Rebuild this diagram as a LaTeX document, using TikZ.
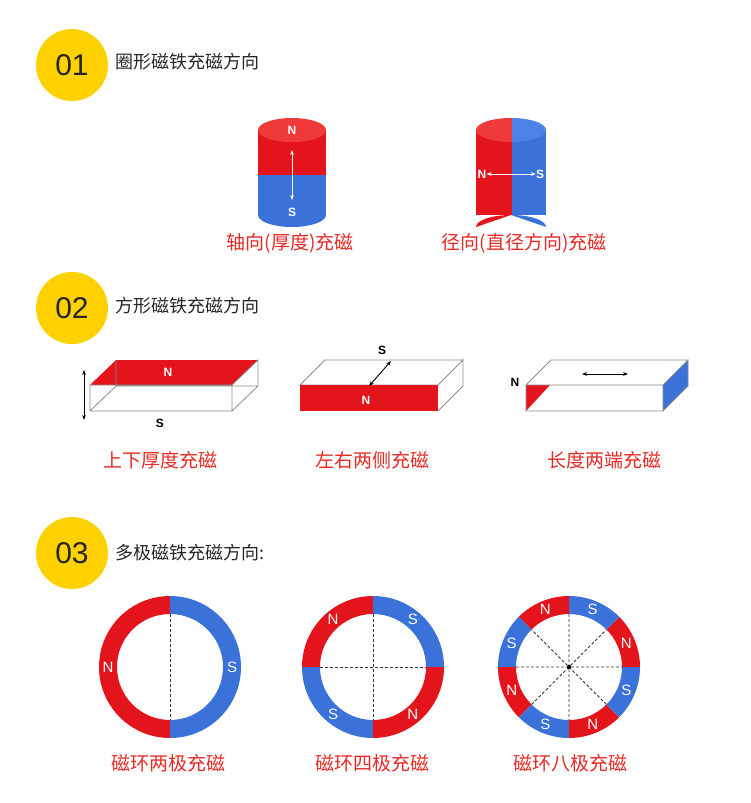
\documentclass[tikz,border=0pt]{standalone}
\usepackage{fontspec}
\setmainfont{Noto Sans CJK SC}
\newfontfamily\lab{Liberation Sans}
\usetikzlibrary{arrows.meta,calc}
\definecolor{ybadge}{HTML}{FFD100}
\definecolor{mred}{HTML}{E3141B}
\definecolor{mredl}{HTML}{F03A3A}
\definecolor{mblue}{HTML}{3A72DA}
\definecolor{mbluel}{HTML}{4A82E6}
\definecolor{tred}{HTML}{E52A24}
\tikzset{
 badge/.style={circle,fill=ybadge,minimum size=72pt,inner sep=0pt,font=\fontsize{30}{30}\selectfont\lab,text=black!85},
 head/.style={anchor=west,font=\fontsize{18}{20}\selectfont,text=black!85},
 redcap/.style={font=\fontsize{19}{21}\selectfont,text=tred},
 pw/.style={font=\fontsize{12}{12}\selectfont\lab\bfseries,text=white,inner sep=0pt},
 pb/.style={font=\fontsize{12}{12}\selectfont\lab\bfseries,text=black,inner sep=0pt},
 rl/.style={font=\fontsize{15}{15}\selectfont\lab,text=white,inner sep=0pt},
 boxedge/.style={draw=black!45,line width=0.8pt},
 dashln/.style={densely dashed,line width=0.9pt,black!80},
 dar/.style={{Stealth[length=5pt]}-{Stealth[length=5pt]},line width=0.9pt},
}
\newcommand{\seg}[5]{\fill[#5] ($(#1,#2)+(-#3:71)$) arc[start angle=-#3,end angle=-#4,radius=71] -- ($(#1,#2)+(-#4:53)$) arc[start angle=-#4,end angle=-#3,radius=53] -- cycle;}
\begin{document}
\begin{tikzpicture}[x=1pt,y=-1pt]
\useasboundingbox (0,0) rectangle (750,803);
% badges and headings
\node[badge] (b1) at (72,65) {01};
\node[head] (h1) at (112,62) {圈形磁铁充磁方向};
\node[badge] (b2) at (72,308) {02};
\node[head] (h2) at (112,306) {方形磁铁充磁方向};
\node[badge] (b3) at (72,553) {03};
\node[head] (h3) at (112,553) {多极磁铁充磁方向:};
% cylinder 1
\fill[mblue] (258,175) rectangle (326,215);
\fill[mblue] (292,215) ellipse[x radius=34,y radius=12];
\fill[mred] (258,130) rectangle (326,175);
\fill[mredl] (292,130) ellipse[x radius=34,y radius=12];
\node[pw] (c1n) at (292,130) {N};
\node[pw] (c1s) at (292,212) {S};
\coordinate (c1a) at (292,150); \coordinate (c1b) at (292,200);
\draw[dar,white] (c1a) -- (c1b);
% cylinder 2
\fill[mred] (476,130) rectangle (512,215);
\fill[mblue] (512,130) rectangle (546,215);
\fill[mred] (511,215) arc[start angle=270,end angle=180,x radius=35,y radius=12] -- cycle;
\fill[mblue] (511,215) arc[start angle=270,end angle=360,x radius=35,y radius=12] -- cycle;
\begin{scope}
\clip (476,110) rectangle (512,150);
\fill[mredl] (511,130) ellipse[x radius=35,y radius=12];
\end{scope}
\begin{scope}
\clip (512,110) rectangle (548,150);
\fill[mbluel] (511,130) ellipse[x radius=35,y radius=12];
\end{scope}
\node[pw] (c2n) at (482,174) {N};
\node[pw] (c2s) at (540,174) {S};
\draw[dar,white] (c2n) -- (c2s);
\node[redcap] (l1) at (290,243) {轴向(厚度)充磁};
\node[redcap] (l2) at (524,243) {径向(直径方向)充磁};
% block 1
\fill[mred] (90,385) -- (232,385) -- (258,360) -- (116,360) -- cycle;
\draw[boxedge] (90,385) rectangle (232,411) (232,385) -- (258,360) -- (258,386) -- (232,411) (90,411) -- (116,386) -- (258,386) (116,386) -- (116,360);
\node[pw] (k1n) at (168,372) {N};
\node[pb] (k1s) at (160,423) {S};
\coordinate (k1a) at (84,370); \coordinate (k1b) at (84,420);
\draw[dar] (k1a) -- (k1b);
% block 2
\draw[boxedge] (300,385) -- (325,360) -- (463,360) -- (438,385) -- cycle (438,385) -- (463,360) -- (463,386) -- (438,411);
\fill[mred] (300,385) rectangle (438,411);
\node[pw] (k2n) at (366,400) {N};
\node[pb] (k2s) at (382,350) {S};
\coordinate (k2a) at (369,386); \coordinate (k2b) at (391,361);
\draw[dar] (k2a) -- (k2b);
% block 3
\fill[mblue] (663,385) -- (688,360) -- (688,386) -- (663,411) -- cycle;
\fill[mred] (526,385) -- (550,385) -- (526,411) -- cycle;
\draw[boxedge] (526,385) rectangle (663,411) (526,385) -- (551,360) -- (688,360) -- (663,385) (688,360) -- (688,386) -- (663,411);
\node[pb] (k3n) at (515,382) {N};
\coordinate (k3a) at (582,374); \coordinate (k3b) at (628,374);
\draw[dar] (k3a) -- (k3b);
\node[redcap] (l3) at (160,460) {上下厚度充磁};
\node[redcap] (l4) at (372,460) {左右两侧充磁};
\node[redcap] (l5) at (604,460) {长度两端充磁};
% ring 1
\seg{170}{667}{90}{270}{mred}
\seg{170}{667}{-90}{90}{mblue}
\draw[dashln] (170,614) -- (170,720);
\node[rl] (r1n) at ($(170,667)+(180:62)$) {N};
\node[rl] (r1s) at ($(170,667)+(0:62)$) {S};
% ring 2
\seg{373}{667}{90}{180}{mred}
\seg{373}{667}{0}{90}{mblue}
\seg{373}{667}{180}{270}{mblue}
\seg{373}{667}{270}{360}{mred}
\draw[dashln] (373,614) -- (373,720) (320,667) -- (426,667);
\node[rl] (r2a) at ($(373,667)+(-130:62)$) {N};
\node[rl] (r2b) at ($(373,667)+(-50:62)$) {S};
\node[rl] (r2c) at ($(373,667)+(-230:62)$) {S};
\node[rl] (r2d) at ($(373,667)+(-310:62)$) {N};
% ring 3
\seg{569}{667}{0}{45}{mred}
\seg{569}{667}{45}{90}{mblue}
\seg{569}{667}{90}{135}{mred}
\seg{569}{667}{135}{180}{mblue}
\seg{569}{667}{180}{225}{mred}
\seg{569}{667}{225}{270}{mblue}
\seg{569}{667}{270}{315}{mred}
\seg{569}{667}{315}{360}{mblue}
\draw[dashln] (569,614) -- (569,720) (516,667) -- (622,667) ($(569,667)+(45:53)$) -- ($(569,667)+(225:53)$) ($(569,667)+(135:53)$) -- ($(569,667)+(315:53)$);
\fill (569,667) circle (2);
\node[rl] (r3a) at ($(569,667)+(-22.5:62)$) {N};
\node[rl] (r3b) at ($(569,667)+(-67.5:62)$) {S};
\node[rl] (r3c) at ($(569,667)+(-112.5:62)$) {N};
\node[rl] (r3d) at ($(569,667)+(-157.5:62)$) {S};
\node[rl] (r3e) at ($(569,667)+(-202.5:62)$) {N};
\node[rl] (r3f) at ($(569,667)+(-247.5:62)$) {S};
\node[rl] (r3g) at ($(569,667)+(-292.5:62)$) {N};
\node[rl] (r3h) at ($(569,667)+(-337.5:62)$) {S};
\node[redcap] (l6) at (168,763) {磁环两极充磁};
\node[redcap] (l7) at (372,763) {磁环四极充磁};
\node[redcap] (l8) at (570,763) {磁环八极充磁};
\end{tikzpicture}
\end{document}
